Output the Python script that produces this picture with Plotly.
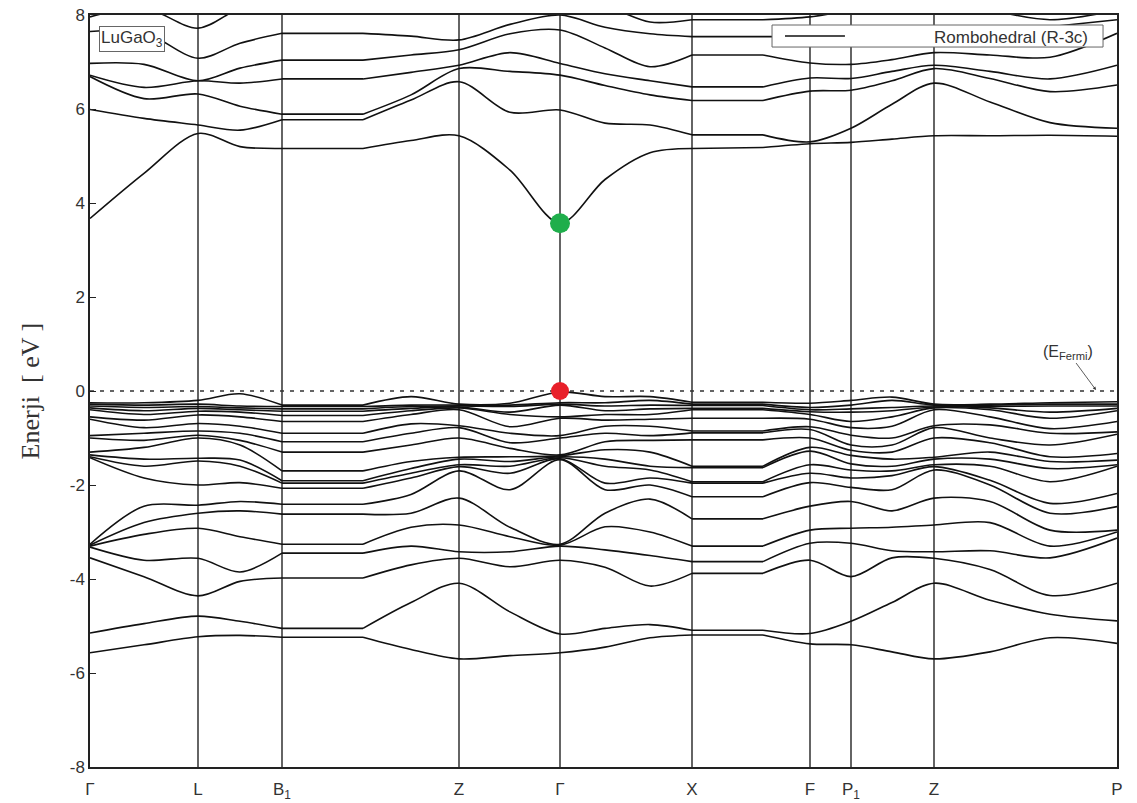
import plotly.graph_objects as go

# ---------------- data ----------------
# k-path knots (arbitrary path units), high-symmetry points and labels
k_knots = [0.00, 0.54, 1.08, 1.50, 1.92, 2.73, 3.21, 3.69, 4.20, 4.70,
           5.15, 5.60, 6.02, 6.73, 7.20, 7.61, 8.02, 8.44, 9.00, 9.60, 10.27]
k_ticks = [0.00, 1.08, 1.92, 3.69, 4.70, 6.02, 7.20, 7.61, 8.44, 10.27]
tick_labels = ["Γ", "L", "B<sub>1</sub>", "Z", "Γ", "X", "F", "P<sub>1</sub>", "Z", "P"]
y_ticks = [-8, -6, -4, -2, 0, 2, 4, 6, 8]
y_tick_labels = ["-8", "-6", "-4", "-2", "0", "2", "4", "6", "8"]

# conduction bands: energy (eV) at every k knot
cb1 = [3.67, 4.63, 5.48, 5.20, 5.16, 5.16, 5.33, 5.43, 4.70, 3.57, 4.50, 5.07, 5.16, 5.18, 5.26, 5.29, 5.36, 5.43, 5.43, 5.44, 5.42]
cb2 = [5.99, 5.80, 5.66, 5.55, 5.77, 5.77, 6.19, 6.58, 5.93, 5.98, 5.70, 5.66, 5.45, 5.45, 5.30, 5.59, 6.10, 6.55, 6.15, 5.71, 5.59]
cb3 = [6.69, 6.22, 6.32, 6.06, 5.89, 5.89, 6.30, 6.86, 6.80, 6.72, 6.50, 6.30, 6.18, 6.18, 6.38, 6.40, 6.60, 6.86, 6.65, 6.37, 6.51]
cb4 = [6.72, 6.46, 6.60, 6.55, 6.64, 6.64, 6.78, 6.93, 7.20, 6.97, 6.75, 6.60, 6.47, 6.47, 6.66, 6.65, 6.80, 6.93, 6.80, 6.64, 6.93]
cb5 = [6.97, 6.95, 6.60, 6.87, 7.04, 7.04, 7.15, 7.26, 7.60, 7.68, 7.30, 6.90, 7.15, 7.15, 6.98, 6.95, 7.05, 7.20, 7.15, 7.10, 7.61]
cb6 = [7.65, 7.63, 7.08, 7.40, 7.61, 7.61, 7.55, 7.47, 7.80, 8.00, 7.74, 7.60, 7.54, 7.54, 7.55, 7.60, 7.50, 7.45, 7.60, 7.75, 7.90]
cb7 = [7.96, 8.15, 7.72, 8.15, 8.40, 8.40, 8.30, 8.10, 8.30, 8.40, 8.20, 7.85, 7.90, 7.90, 7.96, 8.10, 8.20, 8.30, 8.10, 7.90, 8.10]

# valence bands: energies (eV, top to bottom) at each k knot
vb_k00 = [-0.25, -0.28, -0.32, -0.36, -0.40, -0.55, -0.60, -0.95, -1.00, -1.30, -1.36, -1.40, -1.42, -3.26, -3.28, -3.30, -3.32, -3.55, -5.15, -5.57]
vb_k01 = [-0.25, -0.30, -0.35, -0.42, -0.50, -0.62, -0.78, -0.90, -1.05, -1.20, -1.45, -1.60, -1.85, -2.45, -2.80, -3.05, -3.60, -3.95, -4.95, -5.40]
vb_k02 = [-0.20, -0.28, -0.33, -0.37, -0.43, -0.51, -0.69, -0.85, -0.94, -1.00, -1.43, -1.49, -2.00, -2.43, -2.60, -2.92, -3.56, -4.36, -4.79, -5.23]
vb_k03 = [-0.06, -0.32, -0.36, -0.40, -0.45, -0.55, -0.75, -0.90, -1.05, -1.15, -1.47, -1.60, -1.95, -2.35, -2.55, -3.10, -3.85, -4.05, -4.90, -5.20]
vb_k04 = [-0.30, -0.33, -0.38, -0.43, -0.52, -0.65, -0.90, -1.08, -1.30, -1.70, -1.91, -1.96, -2.07, -2.41, -2.62, -3.26, -3.45, -3.98, -5.05, -5.24]
vb_k05 = [-0.30, -0.33, -0.38, -0.43, -0.52, -0.65, -0.90, -1.08, -1.30, -1.70, -1.91, -1.96, -2.07, -2.41, -2.62, -3.26, -3.45, -3.98, -5.05, -5.24]
vb_k06 = [-0.12, -0.30, -0.33, -0.37, -0.42, -0.50, -0.70, -0.90, -1.15, -1.50, -1.65, -1.75, -1.85, -2.20, -2.60, -2.90, -3.30, -3.70, -4.50, -5.50]
vb_k07 = [-0.28, -0.30, -0.32, -0.34, -0.36, -0.40, -0.74, -0.78, -1.00, -1.41, -1.45, -1.57, -1.61, -1.70, -2.28, -2.85, -3.42, -3.56, -4.09, -5.70]
vb_k08 = [-0.26, -0.30, -0.33, -0.45, -0.50, -0.76, -0.90, -1.10, -1.22, -1.40, -1.50, -1.60, -1.75, -2.10, -2.90, -3.10, -3.42, -3.74, -4.70, -5.63]
vb_k09 = [-0.02, -0.25, -0.28, -0.30, -0.55, -0.58, -0.95, -1.00, -1.36, -1.38, -1.40, -1.42, -1.44, -1.46, -3.26, -3.28, -3.30, -3.60, -5.17, -5.57]
vb_k10 = [-0.12, -0.25, -0.32, -0.42, -0.50, -0.62, -0.75, -0.90, -1.08, -1.25, -1.45, -1.60, -1.96, -2.10, -2.60, -2.89, -3.38, -3.75, -5.05, -5.45]
vb_k11 = [-0.12, -0.20, -0.30, -0.38, -0.50, -0.60, -0.75, -0.95, -1.05, -1.30, -1.60, -1.68, -1.85, -2.00, -2.30, -3.00, -3.50, -4.15, -4.97, -5.25]
vb_k12 = [-0.24, -0.28, -0.31, -0.37, -0.40, -0.58, -0.85, -0.89, -1.04, -1.60, -1.63, -1.93, -1.96, -2.25, -2.72, -3.30, -3.63, -3.88, -5.09, -5.19]
vb_k13 = [-0.24, -0.28, -0.31, -0.37, -0.40, -0.58, -0.85, -0.89, -1.04, -1.60, -1.63, -1.93, -1.96, -2.25, -2.72, -3.30, -3.63, -3.88, -5.09, -5.19]
vb_k14 = [-0.26, -0.35, -0.40, -0.44, -0.50, -0.60, -0.76, -0.82, -1.00, -1.20, -1.28, -1.57, -1.75, -1.95, -2.45, -2.96, -3.24, -3.60, -5.16, -5.38]
vb_k15 = [-0.20, -0.30, -0.38, -0.45, -0.65, -0.78, -0.94, -1.15, -1.26, -1.37, -1.55, -1.68, -1.85, -2.05, -2.35, -2.92, -3.24, -3.95, -4.90, -5.40]
vb_k16 = [-0.13, -0.20, -0.35, -0.42, -0.55, -0.75, -1.00, -1.15, -1.30, -1.45, -1.60, -1.70, -1.80, -2.10, -2.55, -2.90, -3.40, -3.55, -4.50, -5.55]
vb_k17 = [-0.28, -0.30, -0.32, -0.34, -0.36, -0.40, -0.74, -0.78, -1.00, -1.41, -1.45, -1.57, -1.61, -1.68, -2.28, -2.85, -3.42, -3.56, -4.09, -5.70]
vb_k18 = [-0.28, -0.30, -0.33, -0.36, -0.40, -0.55, -0.72, -1.00, -1.10, -1.30, -1.45, -1.60, -1.90, -2.00, -2.35, -2.80, -3.40, -3.80, -4.45, -5.55]
vb_k19 = [-0.25, -0.28, -0.32, -0.45, -0.58, -0.80, -0.90, -1.15, -1.40, -1.50, -1.65, -1.93, -2.39, -2.60, -2.96, -3.30, -3.55, -4.35, -4.75, -5.25]
vb_k20 = [-0.23, -0.28, -0.32, -0.37, -0.42, -0.65, -0.87, -0.92, -1.33, -1.47, -1.57, -1.60, -2.18, -2.46, -2.96, -3.00, -3.13, -4.09, -4.89, -5.37]

# band extrema marked on the chart
cbm_k, cbm_e = 4.70, 3.57
vbm_k, vbm_e = 4.70, 0.00

# ---------------- build figure ----------------
conduction = [cb1, cb2, cb3, cb4, cb5, cb6, cb7]
valence_cols = [vb_k00, vb_k01, vb_k02, vb_k03, vb_k04, vb_k05, vb_k06, vb_k07, vb_k08, vb_k09,
                vb_k10, vb_k11, vb_k12, vb_k13, vb_k14, vb_k15, vb_k16, vb_k17, vb_k18, vb_k19, vb_k20]
valence = [[col[b] for col in valence_cols] for b in range(len(vb_k00))]
bands = conduction + valence

spline_runs = [(0, 4), (5, 12), (13, 20)]
flat_runs = [(4, 5), (12, 13)]

sx, sy, fx, fy = [], [], [], []
for band in bands:
    for a, b in spline_runs:
        sx += k_knots[a:b + 1] + [None]
        sy += band[a:b + 1] + [None]
    for a, b in flat_runs:
        fx += k_knots[a:b + 1] + [None]
        fy += band[a:b + 1] + [None]

fig = go.Figure()
line_style = dict(color="#111111", width=1.6)
fig.add_trace(go.Scatter(x=sx, y=sy, mode="lines", line=dict(shape="spline", smoothing=0.9, **line_style),
                         connectgaps=False, hoverinfo="skip", showlegend=False))
fig.add_trace(go.Scatter(x=fx, y=fy, mode="lines", line=dict(shape="linear", **line_style),
                         connectgaps=False, hoverinfo="skip", showlegend=False))
fig.add_trace(go.Scatter(x=[cbm_k], y=[cbm_e], mode="markers",
                         marker=dict(size=20, color="#1fae4b"), showlegend=False, hoverinfo="skip"))
fig.add_trace(go.Scatter(x=[vbm_k], y=[vbm_e], mode="markers",
                         marker=dict(size=18, color="#e8202a"), showlegend=False, hoverinfo="skip"))

shapes = []
for kt in k_ticks[1:-1]:
    shapes.append(dict(type="line", xref="x", yref="paper", x0=kt, x1=kt, y0=0, y1=1,
                       line=dict(color="#111111", width=1.3), layer="below"))
shapes.append(dict(type="line", xref="x", yref="y", x0=k_ticks[0], x1=k_ticks[-1], y0=0, y1=0,
                   line=dict(color="#333333", width=1.3, dash="4px,6px"), layer="below"))
# legend box
shapes.append(dict(type="rect", xref="paper", yref="paper", x0=0.6641, x1=0.9864, y0=0.9574, y1=0.9867,
                   fillcolor="white", line=dict(color="#666666", width=1), layer="above"))
shapes.append(dict(type="line", xref="paper", yref="paper", x0=0.6767, x1=0.7351, y0=0.9721, y1=0.9721,
                   line=dict(color="#111111", width=1.6), layer="above"))

annotations = [
    dict(text="Enerji  [ eV ]", xref="paper", yref="paper", x=-0.058, y=0.5, textangle=-90,
         showarrow=False, xanchor="center", yanchor="middle",
         font=dict(family="Liberation Serif", size=26, color="#333333")),
    dict(text="LuGaO<sub>3</sub>", xref="paper", yref="paper", x=0.0088, y=0.9854,
         xanchor="left", yanchor="top", showarrow=False, bgcolor="white",
         bordercolor="#666666", borderwidth=1, borderpad=1,
         font=dict(family="Liberation Sans", size=17, color="#333333")),
    dict(text="Rombohedral (R-3c)", xref="paper", yref="paper", x=0.9737, y=0.9707,
         xanchor="right", yanchor="middle", showarrow=False,
         font=dict(family="Liberation Sans", size=17, color="#333333")),
    dict(text="(E<sub>Fermi</sub>)", xref="x", yref="y", x=10.06, y=0.02, ax=-28, ay=-38,
         showarrow=True, arrowhead=2, arrowsize=0.8, arrowwidth=0.8, arrowcolor="#333333",
         font=dict(family="Liberation Sans", size=16, color="#333333")),
]

fig.update_layout(
    width=1137, height=803, autosize=False,
    margin=dict(l=90, r=20, t=15, b=36),
    paper_bgcolor="white", plot_bgcolor="white",
    font=dict(family="Liberation Sans", size=17, color="#333333"),
    shapes=shapes, annotations=annotations, showlegend=False,
)
fig.update_xaxes(range=[k_ticks[0], k_ticks[-1]], tickvals=k_ticks, ticktext=tick_labels,
                 ticks="", showgrid=False, zeroline=False, showline=True, mirror=True,
                 linecolor="#222222", linewidth=1.5, ticklabelstandoff=6, automargin=False,
                 tickfont=dict(size=17, color="#333333"))
fig.update_yaxes(range=[-8, 8], tickvals=y_ticks, ticktext=y_tick_labels,
                 ticks="inside", ticklen=6, tickcolor="#222222", showgrid=False, zeroline=False,
                 showline=True, mirror=True, linecolor="#222222", linewidth=1.5, automargin=False,
                 tickfont=dict(size=17, color="#333333"))

fig.write_html("out.html")
